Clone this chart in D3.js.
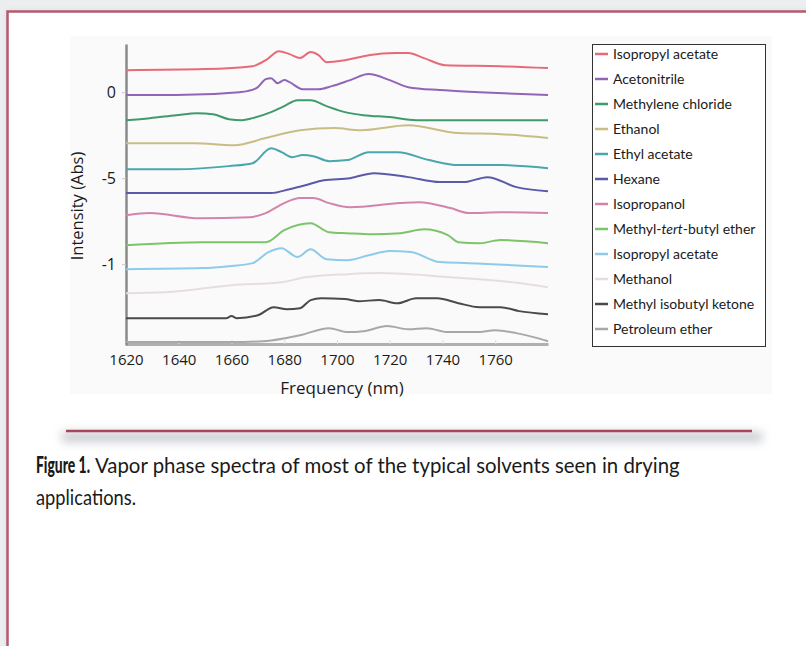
<!DOCTYPE html>
<html>
<head>
<meta charset="utf-8">
<script src="https://cdn.jsdelivr.net/npm/d3@7/dist/d3.min.js"></script>
<style>
  body { margin: 0; background: #fff; }
  svg { display: block; }
</style>
</head>
<body>
<svg id="chart" width="806" height="646"></svg>
<script>
// --- data (wavelength nm, intensity Abs, curves stacked with offsets) ---
const seriesNames = [
  'Isopropyl acetate', 'Acetonitrile', 'Methylene chloride', 'Ethanol',
  'Ethyl acetate', 'Hexane', 'Isopropanol', 'Methyl-tert-butyl ether',
  'Isopropyl acetate', 'Methanol', 'Methyl isobutyl ketone', 'Petroleum ether'
];
const seriesColors = [
  '#e66a78', '#9065b8', '#3f9a6c', '#c9bd86', '#4aa6ad', '#5a5aa8',
  '#d483ad', '#7cc46a', '#8dcbe8', '#e6dde2', '#4a4a4a', '#a8a8a8'
];

const isopropylAcetate = [[1620,0.128],[1650,0.134],[1668,0.151],[1673,0.186],[1678,0.238],[1682,0.221],[1686,0.198],[1690,0.233],[1693,0.215],[1696,0.174],[1703,0.186],[1712,0.215],[1722,0.227],[1727,0.227],[1733,0.198],[1741,0.157],[1762,0.151],[1780,0.140]];
const acetonitrile = [[1620,-0.017],[1639,-0.017],[1663,0.000],[1666,0.006],[1670,0.029],[1673,0.076],[1675,0.081],[1677.5,0.052],[1680,0.070],[1682,0.058],[1687,0.017],[1693,0.017],[1698,0.035],[1705,0.070],[1712,0.105],[1720,0.070],[1727,0.029],[1739,0.012],[1754,0.000],[1780,-0.017]];
const methyleneChloride = [[1620,-0.163],[1629,-0.151],[1639,-0.134],[1647,-0.122],[1653,-0.128],[1659,-0.157],[1664,-0.163],[1668,-0.151],[1675,-0.116],[1680,-0.081],[1685,-0.047],[1690,-0.047],[1696,-0.081],[1703,-0.116],[1710,-0.134],[1720,-0.145],[1730,-0.163],[1780,-0.163]];
const ethanol = [[1620,-0.297],[1646,-0.297],[1661,-0.308],[1673,-0.267],[1686,-0.221],[1699,-0.209],[1709,-0.221],[1727,-0.192],[1746,-0.238],[1762,-0.244],[1780,-0.267]];
const ethylAcetate = [[1620,-0.448],[1639,-0.448],[1659,-0.430],[1668,-0.413],[1675,-0.326],[1679,-0.349],[1683,-0.378],[1687,-0.366],[1691,-0.372],[1697,-0.401],[1704,-0.395],[1712,-0.349],[1723,-0.349],[1735,-0.395],[1746,-0.424],[1762,-0.424],[1780,-0.442]];
const hexane = [[1620,-0.587],[1675,-0.587],[1682,-0.564],[1688,-0.541],[1695,-0.512],[1705,-0.500],[1714,-0.471],[1727,-0.494],[1739,-0.523],[1748,-0.523],[1757,-0.494],[1768,-0.552],[1780,-0.576]];
const isopropanol = [[1620,-0.715],[1629,-0.703],[1648,-0.733],[1667,-0.727],[1673,-0.703],[1680,-0.645],[1686,-0.616],[1691,-0.616],[1697,-0.645],[1705,-0.669],[1724,-0.645],[1731,-0.640],[1743,-0.674],[1750,-0.703],[1762,-0.698],[1780,-0.703]];
const mtbe = [[1620,-0.890],[1649,-0.872],[1673,-0.872],[1680,-0.802],[1690,-0.762],[1697,-0.814],[1704,-0.820],[1713,-0.826],[1724,-0.820],[1733,-0.797],[1742,-0.831],[1746,-0.872],[1754,-0.878],[1762,-0.860],[1780,-0.878]];
const isopropylAcetate2 = [[1620,-1.029],[1649,-1.023],[1659,-1.012],[1668,-0.994],[1674,-0.930],[1679,-0.907],[1685,-0.959],[1690,-0.913],[1696,-0.971],[1704,-0.977],[1712,-0.948],[1720,-0.924],[1728,-0.930],[1739,-0.988],[1750,-0.994],[1780,-1.017]];
const methanol = [[1620,-1.169],[1635,-1.163],[1660,-1.122],[1679,-1.105],[1688,-1.076],[1704,-1.058],[1716,-1.052],[1743,-1.076],[1769,-1.110],[1780,-1.134]];
const mibk = [[1620,-1.314],[1658,-1.314],[1660,-1.302],[1662,-1.314],[1670,-1.297],[1676,-1.250],[1681,-1.262],[1686,-1.256],[1690,-1.209],[1694,-1.198],[1703,-1.203],[1708,-1.215],[1716,-1.209],[1723,-1.227],[1730,-1.198],[1738,-1.198],[1746,-1.227],[1754,-1.250],[1762,-1.250],[1769,-1.273],[1780,-1.291]];
const petroleumEther = [[1620,-1.453],[1660,-1.453],[1672,-1.448],[1686,-1.413],[1697,-1.372],[1704,-1.395],[1710,-1.390],[1719,-1.360],[1727,-1.378],[1734,-1.372],[1742,-1.395],[1753,-1.395],[1760,-1.384],[1768,-1.401],[1776,-1.430],[1780,-1.448]];

const seriesValues = [
  isopropylAcetate, acetonitrile, methyleneChloride, ethanol, ethylAcetate, hexane,
  isopropanol, mtbe, isopropylAcetate2, methanol, mibk, petroleumEther
];

const xTicks = [1620, 1640, 1660, 1680, 1700, 1720, 1740, 1760];
const yTicks = [0, -0.5, -1];
const yTickLabels = ['0', '-5', '-1'];

// --- layout ---
const font = '"Open Sans", Lato, sans-serif';
const legendFont = 'Lato, "Open Sans", sans-serif';
const plot = { left: 126, right: 548, top: 44, bottom: 344 };

const svg = d3.select('#chart');

const defs = svg.append('defs');
defs.append('filter').attr('id', 'blur6').attr('x', '-10%').attr('y', '-200%').attr('width', '120%').attr('height', '500%')
  .append('feGaussianBlur').attr('stdDeviation', 5);
defs.append('filter').attr('id', 'blur3').attr('x', '-10%').attr('y', '-10%').attr('width', '120%').attr('height', '120%')
  .append('feGaussianBlur').attr('stdDeviation', 3);

// page backdrop + framed panel
svg.append('rect').attr('width', 806).attr('height', 646).attr('fill', '#eceef0');
svg.append('rect').attr('x', 7).attr('y', 11).attr('width', 830).attr('height', 700)
  .attr('fill', '#d9dbde').attr('filter', 'url(#blur3)');
svg.append('rect').attr('x', 7.5).attr('y', 11.5).attr('width', 830).attr('height', 700)
  .attr('fill', '#fff').attr('stroke', '#b35a6c').attr('stroke-width', 2.5);

// faint chart background
svg.append('rect').attr('x', 70).attr('y', 36).attr('width', 702).attr('height', 358).attr('fill', '#fafafa');

const x = d3.scaleLinear().domain([1620, 1780]).range([plot.left, plot.right]);
const y = d3.scaleLinear().domain([-1.47, 0.28]).range([plot.bottom + 1, plot.top]);

// x axis
const xAxis = d3.axisBottom(x).tickValues(xTicks).tickFormat(d3.format('d'))
  .tickSize(-4).tickSizeOuter(0).tickPadding(10);
svg.append('g')
  .attr('transform', `translate(0,${plot.bottom})`)
  .call(xAxis)
  .call((g) => g.select('.domain').attr('stroke', '#b0b0b0').attr('stroke-width', 3))
  .call((g) => g.selectAll('.tick line').attr('stroke', '#dddddd'))
  .call((g) => g.selectAll('.tick text').attr('fill', '#1a1a1a').attr('font-size', 15).attr('font-family', font));

// y axis
const yAxis = d3.axisLeft(y).tickValues(yTicks).tickFormat((d, i) => yTickLabels[i])
  .tickSize(4).tickSizeOuter(0).tickPadding(6);
svg.append('g')
  .attr('transform', `translate(${plot.left},0)`)
  .call(yAxis)
  .call((g) => g.select('.domain').attr('stroke', '#8a8a8a').attr('stroke-width', 2.5))
  .call((g) => g.selectAll('.tick line').attr('stroke', '#c8c8c8'))
  .call((g) => g.selectAll('.tick text').attr('fill', '#1a1a1a').attr('font-size', 16).attr('font-family', font));

// spectra
const line = d3.line()
  .x((d) => x(d[0]))
  .y((d) => y(d[1]))
  .curve(d3.curveMonotoneX);

svg.append('g')
  .selectAll('path')
  .data(seriesValues)
  .join('path')
  .attr('d', line)
  .attr('fill', 'none')
  .attr('stroke', (d, i) => seriesColors[i])
  .attr('stroke-width', 2)
  .attr('stroke-linejoin', 'round');

// axis titles
svg.append('text')
  .attr('transform', 'translate(76,206) rotate(-90)')
  .attr('text-anchor', 'middle')
  .attr('dominant-baseline', 'central')
  .attr('font-family', font).attr('font-size', 16.5).attr('fill', '#1a1a1a')
  .text('Intensity (Abs)');

svg.append('text')
  .attr('x', 342).attr('y', 394)
  .attr('text-anchor', 'middle')
  .attr('font-family', font).attr('font-size', 17).attr('fill', '#1a1a1a')
  .text('Frequency (nm)');

// legend
const legend = svg.append('g').attr('transform', 'translate(592,44)');
const rowH = 25;
legend.append('rect')
  .attr('x', 0.5).attr('y', 0.5)
  .attr('width', 173).attr('height', seriesNames.length * rowH + 2)
  .attr('fill', '#fff').attr('stroke', '#333').attr('stroke-width', 1);

const rows = legend.selectAll('g.row')
  .data(seriesNames)
  .join('g')
  .attr('class', 'row')
  .attr('transform', (d, i) => `translate(0,${10 + i * rowH})`);

rows.append('line')
  .attr('x1', 3).attr('x2', 16)
  .attr('stroke', (d, i) => seriesColors[i])
  .attr('stroke-width', 2.5);

rows.append('text')
  .attr('x', 21)
  .attr('dy', '0.35em')
  .attr('font-family', legendFont).attr('font-size', 14).attr('fill', '#1a1a1a')
  .each(function (d) {
    const t = d3.select(this);
    if (d.includes('-tert-')) {
      t.append('tspan').text('Methyl-');
      t.append('tspan').attr('font-style', 'italic').text('tert');
      t.append('tspan').text('-butyl ether');
    } else {
      t.text(d);
    }
  });

// separator rule with soft shadow
svg.append('rect').attr('x', 62).attr('y', 432).attr('width', 700).attr('height', 10)
  .attr('fill', '#c9cbd0').attr('filter', 'url(#blur6)');
svg.append('line')
  .attr('x1', 66).attr('x2', 752).attr('y1', 431).attr('y2', 431)
  .attr('stroke', '#a8445c').attr('stroke-width', 2.5);

// caption: condensed look by squeezing each run horizontally to its width
const captionRuns = [
  { text: 'Figure 1.', x: 36, y: 473, width: 54, weight: 900 },
  { text: 'Vapor phase spectra of most of the typical solvents seen in drying', x: 95, y: 473, width: 585, weight: 400 },
  { text: 'applications.', x: 36, y: 505, width: 100, weight: 400 }
];
svg.append('g')
  .selectAll('text')
  .data(captionRuns)
  .join('text')
  .attr('font-family', legendFont).attr('font-size', 22).attr('fill', '#1a1a1a')
  .attr('font-weight', (d) => d.weight)
  .text((d) => d.text)
  .attr('transform', function (d) {
    const k = d.width / this.getComputedTextLength();
    return `translate(${d.x},${d.y}) scale(${k},1)`;
  });
</script>
</body>
</html>
